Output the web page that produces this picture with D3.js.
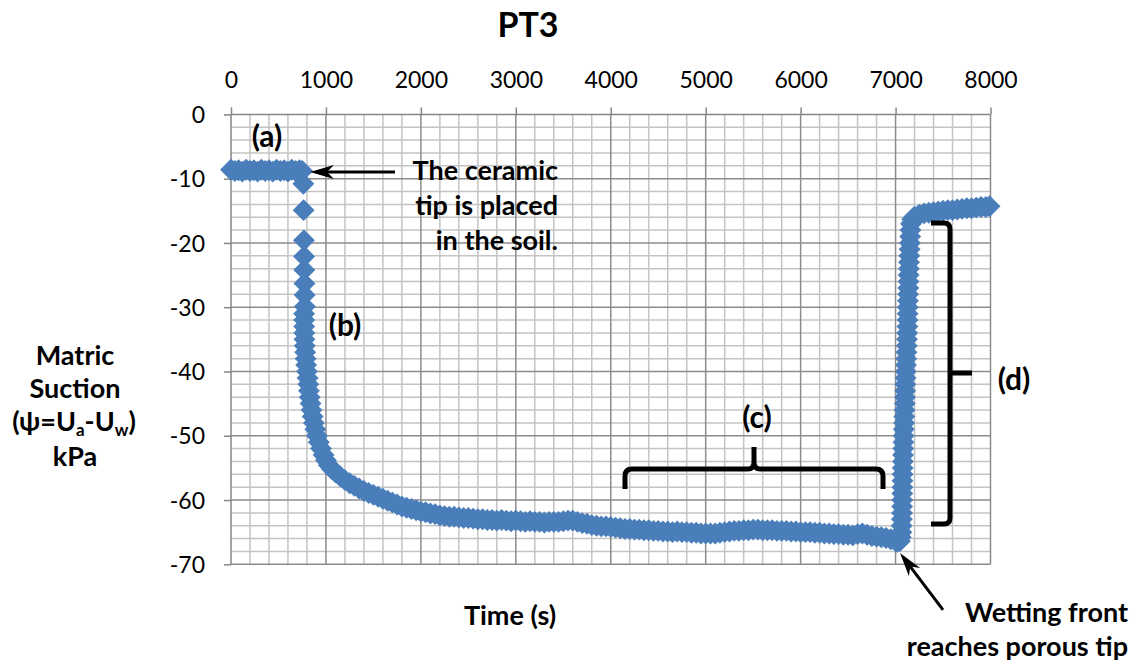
<!DOCTYPE html>
<html><head><meta charset="utf-8">
<script src="https://cdn.jsdelivr.net/npm/d3@7"></script>
<style>
body{margin:0;background:#fff}
svg{display:block}
text{font-family:Lato,'Open Sans',sans-serif;fill:#000}
</style>
</head><body>
<svg id="chart" width="1144" height="665"></svg>
<script>
// ---- data ----
const chartTitle = "PT3";
const xTickValues = [0,1000,2000,3000,4000,5000,6000,7000,8000];
const yTickValues = [0,-10,-20,-30,-40,-50,-60,-70];

// Time (s)
const timeS = [
  0,40,80,120,160,200,240,280,320,360,400,440,480,520,560,600,640,680,720,750,
  762,765,768,770,772,774,776,778,
  770,771,771,772,774,777,781,786,792,800,807,814,821,829,838,848,860,873,888,905,925,948,975,1000,1030,1065,1100,
  1150,1200,1250,1300,1350,1400,1450,1500,1550,1600,1650,1700,1750,1800,1850,1900,1950,2000,
  2050,2100,2150,2200,2250,2300,2350,2400,2450,2500,2550,2600,2650,2700,2750,2800,2850,2900,2950,3000,
  3050,3100,3150,3200,3250,3300,3350,3400,3450,3500,3550,3600,3650,3700,3750,3800,3850,3900,3950,4000,
  4050,4100,4150,4200,4250,4300,4350,4400,4450,4500,4550,4600,4650,4700,4750,4800,4850,4900,4950,5000,
  5050,5100,5150,5200,5250,5300,5350,5400,5450,5500,5550,5600,5650,5700,5750,5800,5850,5900,5950,6000,
  6050,6100,6150,6200,6250,6300,6350,6400,6450,6500,6550,6600,6650,6700,6750,6800,6850,6900,6950,7000,7020,
  7045,7055,7062,7064,7066,7068,7069,7070,7071,7072,7073,7074,7075,7077,7079,7081,7083,7085,7087,7090,
  7092,7094,7097,7099,7101,7103,7105,7108,7110,7112,7115,7118,7120,7122,7124,7126,7127,7128,7130,7132,
  7134,7136,7138,7140,7142,7145,7148,7151,7154,7157,7162,7175,
  7200,7250,7300,7350,7400,7450,7500,7550,7600,7650,7700,7750,7800,7850,7900,7950,7990
];
// Matric suction (kPa)
const suction = [
  -8.6,-8.8,-8.7,-8.9,-8.6,-8.8,-8.7,-8.9,-8.6,-8.8,-8.7,-8.9,-8.6,-8.8,-8.7,-8.9,-8.6,-8.8,-8.7,-8.8,
  -10.8,-14.9,-19.6,-22.1,-24.2,-26.3,-28.1,-29.9,
  -31,-32,-33,-34,-35,-36,-37,-38,-39,-40,-41,-42,-43,-44,-45,-46,-47,-48,-49,-50,-51,-52,-53,-53.8,-54.6,-55.2,-55.7,
  -56.3,-56.9,-57.4,-57.8,-58.2,-58.6,-58.9,-59.2,-59.5,-59.8,-60.1,-60.4,-60.7,-61.0,-61.2,-61.4,-61.6,-61.8,
  -61.9,-62.1,-62.2,-62.4,-62.5,-62.6,-62.6,-62.7,-62.8,-62.8,-62.9,-63.0,-63.0,-63.1,-63.1,-63.2,-63.1,-63.2,-63.3,-63.2,
  -63.3,-63.4,-63.3,-63.4,-63.4,-63.5,-63.4,-63.4,-63.4,-63.3,-63.2,-63.2,-63.4,-63.6,-63.7,-63.9,-64.0,-64.1,-64.1,-64.2,
  -64.3,-64.4,-64.5,-64.5,-64.6,-64.6,-64.7,-64.7,-64.8,-64.8,-64.9,-64.9,-65.0,-64.9,-65.0,-65.0,-65.1,-65.1,-65.2,-65.2,
  -65.2,-65.2,-65.1,-65.0,-64.9,-64.8,-64.8,-64.7,-64.7,-64.6,-64.6,-64.7,-64.7,-64.7,-64.8,-64.8,-64.8,-64.9,-64.9,-65.0,
  -65.0,-65.0,-65.1,-65.1,-65.2,-65.2,-65.3,-65.3,-65.4,-65.4,-65.5,-65.3,-65.2,-65.4,-65.6,-65.7,-65.8,-65.9,-66.1,-66.4,-66.5,
  -66.4,-65.8,-65,-64,-63,-62,-61,-60,-59,-58,-57,-56,-55,-54,-53,-52,-51,-50,-49,-48,
  -47,-46,-45,-44,-43,-42,-41,-40,-39,-38,-37,-36,-35,-34,-33,-32,-31,-30,-29,-28,
  -27,-26,-25,-24,-23,-22,-21,-20,-19,-18,-17,-16.3,
  -15.9,-15.6,-15.4,-15.3,-15.2,-15.1,-15.0,-14.9,-14.9,-14.8,-14.7,-14.6,-14.6,-14.5,-14.4,-14.4,-14.3
];

// ---- chart ----
const svg = d3.select("#chart");
const x = d3.scaleLinear().domain([0,8000]).range([231,990.5]);
const y = d3.scaleLinear().domain([0,-70]).range([114.4,564.3]);
const [x0,x1] = x.range(), [y0,y1] = y.range();

// minor grid
const minorX = d3.range(200,8000,200).filter(d=>d%1000!==0);
const minorY = d3.range(-2,-70,-2).filter(d=>d%10!==0);
const g = svg.append("g");
g.selectAll(".mx").data(minorX).join("line")
  .attr("x1",d=>x(d)).attr("x2",d=>x(d)).attr("y1",y0).attr("y2",y1)
  .attr("stroke","#c4c4c4").attr("stroke-width",1.5);
g.selectAll(".my").data(minorY).join("line")
  .attr("y1",d=>y(d)).attr("y2",d=>y(d)).attr("x1",x0).attr("x2",x1)
  .attr("stroke","#c4c4c4").attr("stroke-width",1.5);
// major grid
g.selectAll(".Mx").data(xTickValues.slice(1)).join("line")
  .attr("x1",d=>x(d)).attr("x2",d=>x(d)).attr("y1",y0).attr("y2",y1)
  .attr("stroke","#8c8c8c").attr("stroke-width",1.5);
g.selectAll(".My").data(yTickValues.slice(1)).join("line")
  .attr("y1",d=>y(d)).attr("y2",d=>y(d)).attr("x1",x0).attr("x2",x1)
  .attr("stroke","#8c8c8c").attr("stroke-width",1.5);

// axes
const xAxis = d3.axisTop(x).tickValues(xTickValues).tickSize(7).tickFormat(d=>String(d));
const yAxis = d3.axisLeft(y).tickValues(yTickValues).tickSize(7).tickFormat(d=>String(d));
const gx = svg.append("g").attr("transform",`translate(0,${y0})`).call(xAxis);
const gy = svg.append("g").attr("transform",`translate(${x0},0)`).call(yAxis);
[gx,gy].forEach(a=>{
  a.select(".domain").attr("stroke","#868686").attr("stroke-width",1.5);
  a.selectAll(".tick line").attr("stroke","#868686").attr("stroke-width",1.5);
  a.selectAll(".tick text").style("font-family","Lato,'Open Sans',sans-serif").attr("font-size",23).attr("fill","#000");
});
gx.selectAll(".tick text").attr("dy",0).attr("y",-26);
gy.selectAll(".tick text").attr("x",-26).attr("dy","0.35em");
gx.select(".domain").attr("d",`M${x0},0H${x1}`);
gy.select(".domain").attr("d",`M0,${y0}V${y1}`);

// data markers (diamonds)
const pts = timeS.map((t,i)=>({t, v:suction[i]}));
const sym = d3.symbol().type(d3.symbolSquare).size(240);
svg.append("g").selectAll("path").data(pts).join("path")
  .attr("d",sym)
  .attr("transform",d=>`translate(${x(d.t)},${y(d.v)}) rotate(45)`)
  .attr("fill","#4a7ebb");

// titles
const bold = (sel)=>sel.attr("font-weight","bold");
svg.append("text").attr("x",528).attr("y",37).attr("text-anchor","middle").attr("font-size",34).call(bold).text(chartTitle);
svg.append("text").attr("x",510).attr("y",625).attr("text-anchor","middle").attr("font-size",27).call(bold).text("Time (s)");
const yl = svg.append("g").attr("font-size",27).attr("font-weight","bold").attr("text-anchor","middle");
yl.append("text").attr("x",75).attr("y",365).text("Matric");
yl.append("text").attr("x",75).attr("y",398).text("Suction");
const psi = yl.append("text").attr("x",74).attr("y",431);
psi.append("tspan").text("(ψ=U");
psi.append("tspan").attr("font-size",17).attr("dy",5).text("a");
psi.append("tspan").attr("dy",-5).text("-U");
psi.append("tspan").attr("font-size",17).attr("dy",5).text("w");
psi.append("tspan").attr("dy",-5).text(")");
yl.append("text").attr("x",75).attr("y",466).text("kPa");

// annotations
const ann = svg.append("g").attr("font-size",27).attr("font-weight","bold");
const lab = svg.append("g").attr("font-size",30).attr("font-weight","bold").attr("text-anchor","middle");
lab.append("text").attr("x",267).attr("y",147).text("(a)");
lab.append("text").attr("x",345).attr("y",336).text("(b)");
lab.append("text").attr("x",757).attr("y",428).text("(c)");
lab.append("text").attr("x",1014).attr("y",390).text("(d)");
[["The ceramic",180],["tip is placed",215],["in the soil.",250]].forEach(([s,yy])=>
  ann.append("text").attr("x",558).attr("y",yy).attr("text-anchor","end").text(s));
[["Wetting front",622],["reaches porous tip",656]].forEach(([s,yy])=>
  ann.append("text").attr("x",1128).attr("y",yy).attr("text-anchor","end").text(s));

// arrows
function arrow(xa,ya,xb,yb){ // tail (xa,ya) -> tip (xb,yb)
  const dx=xb-xa, dy=yb-ya, L=Math.hypot(dx,dy), ux=dx/L, uy=dy/L, px=-uy, py=ux;
  const back=24, half=7, notch=17;
  svg.append("line").attr("x1",xa).attr("y1",ya).attr("x2",xb-ux*notch).attr("y2",yb-uy*notch)
    .attr("stroke","#000").attr("stroke-width",3);
  svg.append("path").attr("fill","#000").attr("d",
    `M${xb},${yb}L${xb-ux*back+px*half},${yb-uy*back+py*half}L${xb-ux*notch},${yb-uy*notch}L${xb-ux*back-px*half},${yb-uy*back-py*half}Z`);
}
arrow(x(1727),y(-8.96),x(832),y(-8.96));
arrow(x(7500),y(-77.1),x(7047),y(-68.24));

// braces
const br = svg.append("g").attr("fill","none").attr("stroke","#000").attr("stroke-width",5);
br.append("path").attr("d",
  `M625,489V476Q625,469 632,469H748Q754,469 754,462V447M754,462Q754,469 760,469H876Q883,469 883,476V489`);
br.append("path").attr("d",
  `M931,223H944Q950,223 950,229V518Q950,524 944,524H931M950,373H972`);
</script>
</body></html>
